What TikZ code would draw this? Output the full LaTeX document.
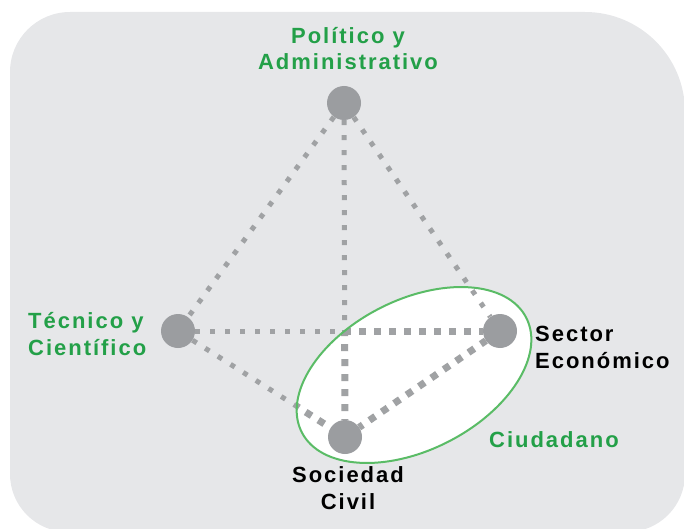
\documentclass[tikz,border=0pt]{standalone}
\usepackage{fontspec}
\setmainfont{Liberation Sans}[LetterSpace=9]
\usetikzlibrary{positioning}

\definecolor{panelgray}{RGB}{230,231,233}
\definecolor{dotgray}{RGB}{160,162,164}
\definecolor{actorgray}{RGB}{155,157,160}
\definecolor{actorgreen}{RGB}{35,160,72}
\definecolor{ringgreen}{RGB}{90,188,102}

\tikzstyle{actor} = [
  circle,
  fill=actorgray,
  minimum size=34pt,
  inner sep=0pt,
]
\tikzstyle{link} = [
  dotgray,
  line width=5pt,
  dash pattern=on 5pt off 10pt,
]
\tikzstyle{front link} = [
  dotgray,
  line width=7pt,
  dash pattern=on 7pt off 8pt,
  dash phase=1pt,
]
\tikzstyle{label} = [
  inner sep=0pt,
  font=\bfseries\fontsize{22}{26.5}\selectfont,
]
\tikzstyle{green label} = [label, text=actorgreen]

\begin{document}
\begin{tikzpicture}[x=1pt, y=-1pt]

        \useasboundingbox (0,0) rectangle (684,529);

        % Panel
        \fill [panelgray] (10,300) [rounded corners=60] -- (10,12)
              [rounded corners=100] -- (685,12)
              [rounded corners=58] -- (685,532) -- (10,532)
              [sharp corners] -- cycle;

        % Ciudadano
        \fill [white, shift={(414,375)}, rotate=27] (0,0) ellipse [x radius=126, y radius=75];

        % Actors
        \node [actor] (pol) at (344,103) {};
        \node [actor] (tec) at (178,331) {};
        \node [actor] (eco) at (500,331) {};
        \node [actor] (soc) at (345,437) {};

        % Links
        \draw [link] (pol) -- (tec);
        \draw [link] (pol) -- (eco);
        \draw [link] (pol) -- (soc);
        \draw [link] (tec) -- (eco);
        \draw [link] (tec) -- (soc);
        \draw [link] (eco) -- (soc);

        \begin{scope}
          \clip [shift={(414,375)}, rotate=27] (0,0) ellipse [x radius=126, y radius=75];
          \draw [front link] (pol) -- (soc);
          \draw [front link] (tec) -- (eco);
          \draw [front link] (tec) -- (soc);
          \draw [front link] (eco) -- (soc);
        \end{scope}

        \draw [ringgreen, line width=2pt, shift={(414,375)}, rotate=27]
              (0,0) ellipse [x radius=126, y radius=75];

        % Labels (base = last line)
        \node [green label, align=center, anchor=base] (pollabel) at (348,70)
              {Político y\\Administrativo};
        \node [green label, align=left, anchor=base west] (teclabel) at (28,355)
              {Técnico y\\Científico};
        \node [label, align=left, anchor=base west] (ecolabel) at (535,368)
              {Sector\\Económico};
        \node [green label, anchor=base west] (ciulabel) at (489,447) {Ciudadano};
        \node [label, align=center, anchor=base] (soclabel) at (348,509)
              {Sociedad\\Civil};
      \end{tikzpicture}
\end{document}
